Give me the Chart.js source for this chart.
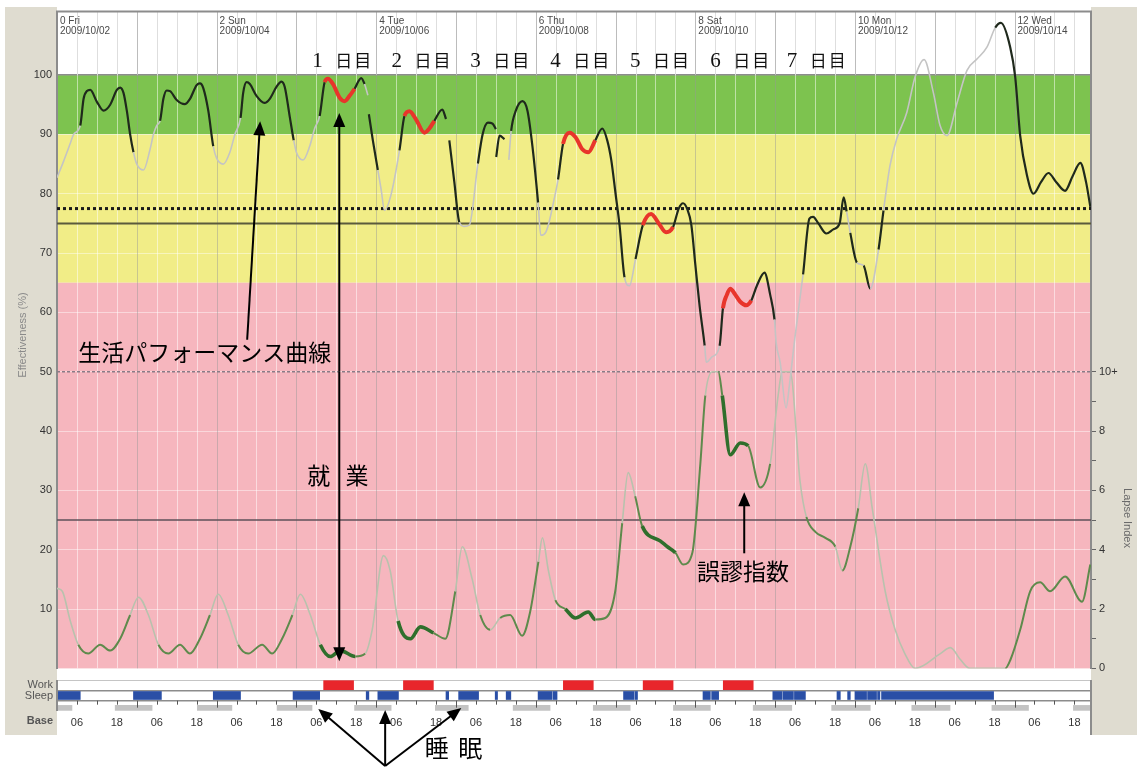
<!DOCTYPE html>
<html>
<head>
<meta charset="utf-8">
<script src="https://cdn.jsdelivr.net/npm/chart.js@4.4.1/dist/chart.umd.min.js"></script>
<style>
html,body{margin:0;padding:0;background:#fff;}
#wrap{position:relative;width:1137px;height:767px;overflow:hidden;}
#main{position:absolute;left:0;top:0;}
#strip{position:absolute;left:0;top:680px;}
</style>
</head>
<body>
<div id="wrap">
  <canvas id="main" width="1137" height="680"></canvas>
  <canvas id="strip" width="1137" height="87"></canvas>
</div>
<script>
// time runs in hours from 2009/10/02 00:00
const xMax = 311;
const effTop = 110.7;
const lapseTop = 22.14;   // 10 on the lapse axis sits on the 50 % line

const dayHeaderHours = [0, 48, 96, 144, 192, 240, 288];
const dayHeaderNames = ['0 Fri', '2 Sun', '4 Tue', '6 Thu', '8 Sat', '10 Mon', '12 Wed'];
const dayHeaderDates = ['2009/10/02', '2009/10/04', '2009/10/06', '2009/10/08', '2009/10/10', '2009/10/12', '2009/10/14'];

const shiftDayHours = [85.8, 109.6, 133.3, 157.4, 181.4, 205.5, 228.5];
const shiftDayNums = ['1', '2', '3', '4', '5', '6', '7'];

const effTicks = [10, 20, 30, 40, 50, 60, 70, 80, 90, 100];
const lapseTicks = [0, 2, 4, 6, 8, 10];

const greenZone = [90, 100];
const yellowZone = [65, 90];
const redZone = [0, 65];

const criterionDotted = 77.5;
const criterionSolid = 75;
const lapseDotted = 50;
const lapseSolid = 25;

const workIntervals = [[80.2, 89.2], [104.2, 113.2], [152.3, 161.3], [176.3, 185.3], [200.4, 209.4]];
const sleepIntervals = [[0, 7], [23, 31.4], [47, 55.2], [71, 79], [93, 93.8], [96.5, 102.7], [117, 117.8],
  [120.8, 126.8], [131.8, 132.5], [135.1, 136.5], [144.7, 148.9], [149.2, 150.4], [170.4, 173.5], [173.8, 174.6],
  [194.3, 196.5], [196.9, 199], [215.3, 218], [218.3, 221.5], [221.8, 225.1], [234.6, 235.6], [237.8, 238.6],
  [240, 243.5], [243.8, 246.5], [246.8, 247.5], [248, 281.7]];
const baseIntervals = [[0, 4.5], [17.5, 28.6], [42.2, 52.6], [66.2, 76.7], [89.5, 100.5], [113.8, 123.7], [137.2, 148.3],
  [161.3, 172.4], [185.4, 196.5], [209.4, 221], [233, 244.6], [257.1, 268.6], [281.2, 292.2], [305.7, 311]];

const effHours = [0, 2, 4, 5, 7, 8, 9, 10, 12, 14, 16, 18, 19, 20, 21, 22, 23, 24, 26, 28, 29, 30, 31,
  32, 33, 34, 36, 38.4, 40, 42, 43, 44, 45.5, 47, 48, 50, 52, 53.5, 55.2,
  56, 57, 58, 60, 62.4, 64, 66, 67.5, 68.5, 70, 71.2, 72, 74, 76, 77.5, 79,
  80.5, 81.5, 83, 85, 86.5, 88, 89.5, 91.5, 92.5, 93.5, null,
  93.8, 95, 96.5, 97.5, 98.5, 100.5, 103, 104.5, 106, 108, 110.5, 112, 113.5, 115.9, 117, null,
  118, 119.5, 121, 122.5, 124, 126.6, 128, 129.6, 131, 132, null,
  132.1, 133.1, 134.6, null,
  135.9, 136.6, 138, 140, 141.5, 143, 144.7, 145.5, 147, 148, 149.5, 150.7, 152.2, 154.2, 156, 158, 159.8, 161.9,
  164, 165.5, 166.7, 168, 169.2, 170.7, 172.2, 174, 176.2, 178.7, 181, 183.2, 185.3, 187, 188.3, 189.5, 190.8,
  192, 193.3, 194.8, 195.3, 197, 199.3, 200.3, 201.5, 202.5, 204, 205.5, 207.3, 208.8, 210.5, 212.8, 214.5,
  215.8, 216.3, 217.5, 219.3, 220.3, 222, 224.4, 226.3, 227.4, 229, 231.4, 233.5, 235.4, 236.6, 237.5, 238.6,
  240.6, 242.6, 244.6, 247.1, 248.6, 250.6, 252.6, 255.6, 258.1, 260.8, 263.6, 265.6, 267.7, 270.7, 273.7,
  276.7, 279.7, 282.2, 283.9, 286.7, 288.2, 289.7, 291.7, 293.7, 296, 298.2, 300.5, 303.2, 305.5, 307.8, 309.5, 310.8];
const effValues = [82.7, 85.5, 88.5, 90, 91.5, 96, 97.3, 97.5, 95.5, 94, 95, 97.5, 97.9, 97, 94, 90, 87, 85, 84, 87.5, 90, 91.5, 92.3,
  96, 97.4, 97.3, 95.8, 95.1, 96, 98.3, 98.6, 97.8, 94, 88, 86, 85, 87, 90, 92.8,
  97, 98.8, 98.5, 96.5, 95.3, 96, 98, 98.9, 98, 93, 89, 87, 85.7, 88, 91, 93.1,
  98.8, 99.4, 98.5, 96.2, 95.6, 96.5, 97.7, 99.5, 98.5, 96.6, null,
  93.4, 89, 84, 80.7, 77.2, 79.9, 87.3, 93.1, 93.9, 92.5, 90.3, 91, 92.3, 94.2, 92.6, null,
  89, 82, 75.2, 74.5, 74.7, 85.1, 90, 92, 91.8, 90.9, null,
  86.2, 89.8, 89.2, null,
  85.7, 90.6, 94, 95.6, 94, 88, 78.5, 73, 73.5, 75.2, 79, 82.4, 88.4, 90.3, 89.5, 87.5, 87, 89,
  91, 89, 85.7, 80, 74.7, 65.9, 64.5, 69, 74.7, 76.6, 75, 73.5, 74.4, 77.5, 78.4, 77.5, 74.7,
  68, 61, 54.4, 51.6, 52.5, 54.4, 60.7, 63, 64, 63, 61.8, 61.2, 62, 64.5, 66.7, 63,
  58.8, 54.9, 51.6, 43.9, 47.8, 56, 66.4, 75.8, 76.1, 75, 73.3, 74, 75, 79.4, 77, 73.4,
  68.4, 67.9, 64, 70.6, 77.2, 84.9, 89.3, 93.7, 99.7, 102.6, 97, 91.5, 89.8, 95.3, 100.8,
  102.7, 104.7, 108, 108.8, 104.7, 99.7, 89.8, 83.2, 80, 82, 83.5, 82, 80.5, 83, 85.2, 82, 77.8];

const lapseHours = [0, 1.6, 4, 6.4, 9.4, 13, 16, 19, 22, 24.5, 27.5, 30.5, 33.5, 37, 40, 43, 46, 48.5, 51.5,
  54.5, 57.5, 61.7, 64.7, 67.7, 70.8, 73.2, 76.2, 79.2, 82.2, 85.2, 89.7, 92.7, 94.8, 98.2, 100.2, 102.6,
  106.3, 109.3, 113.2, 116.8, 119.8, 121.9, 124.9, 127.3, 130.3, 133.3, 136.3, 139.9, 142.3, 144.8, 146,
  147.8, 149.9, 152.9, 155.9, 159.8, 161.9, 164.9, 167.9, 170, 171.8, 173.9, 176, 181.4, 183.6, 186, 188.3,
  191.1, 193.5, 195, 197.1, 198.9, 200.1, 202.5, 205.5, 207.9, 211.5, 214.5, 216.9, 218.1, 220.5, 223.5,
  225.4, 228.1, 231.1, 234.1, 236.2, 238.6, 241, 243.1, 245.2, 249.1, 252.1, 255, 258.1, 265.7, 268.7,
  271.7, 274.6, 285.2, 286.8, 289.7, 292.7, 295.7, 298.7, 303.2, 308.3, 310.8];
const lapseValues = [2.7, 2.6, 1.6, 0.8, 0.5, 0.8, 0.6, 1.0, 1.8, 2.4, 1.8, 0.8, 0.5, 0.8, 0.5, 1.0, 1.8, 2.5, 1.8,
  0.8, 0.5, 0.8, 0.5, 1.0, 1.8, 2.5, 1.8, 0.8, 0.4, 0.6, 0.4, 0.5, 1.3, 3.8, 3.3, 1.6,
  1.0, 1.4, 1.2, 1.0, 2.6, 4.1, 3.0, 1.8, 1.3, 1.7, 1.8, 1.1, 1.9, 3.6, 4.4,
  3.3, 2.3, 2.0, 1.7, 1.9, 1.65, 1.7, 2.6, 4.9, 6.6, 5.8, 4.8, 4.3, 4.1, 3.9, 3.5,
  3.9, 6.9, 9.2, 10, 10, 9.2, 7.2, 7.6, 7.5, 6.1, 6.9, 9.2, 10, 10, 6.3,
  5.1, 4.6, 4.4, 4.1, 3.3, 4.1, 5.4, 6.9, 5.4, 2.6, 1.3, 0.5, 0, 0.5, 0.7,
  0.3, 0, 0, 0.3, 1.3, 2.6, 2.9, 2.6, 3.1, 2.25, 3.5];

const toPoints = (hs, vs) => hs.map((h, i) => ({ x: h === null ? NaN : h, y: vs[i] }));
const inside = (h, list) => list.some(([a, b]) => h >= a && h <= b);
function phase(c) {
  const h = (c.p0.parsed.x + c.p1.parsed.x) / 2;
  if (inside(h, workIntervals)) return 'work';
  if (inside(h, sleepIntervals)) return 'sleep';
  return 'wake';
}
const effStyle = { work: ['#e8352b', 4], sleep: ['#c4c4c4', 1.6], wake: ['#1f291c', 2.2] };
const lapseStyle = { work: ['#2f6f2c', 3.6], sleep: ['#b8c2ad', 1.6], wake: ['#5e8a4c', 2] };

const refLine = (y, color, width, dash) => ({
  type: 'line', data: [{ x: 0, y }, { x: xMax, y }], borderColor: color, borderWidth: width,
  borderDash: dash, pointRadius: 0, order: 5, yAxisID: 'y'
});

Chart.defaults.font.family = '"Liberation Sans", Arial, sans-serif';

function arrow(ctx, x1, y1, x2, y2) {
  const a = Math.atan2(y2 - y1, x2 - x1), L = 14, W = 6;
  ctx.beginPath();
  ctx.moveTo(x1, y1);
  ctx.lineTo(x2 - Math.cos(a) * L * 0.7, y2 - Math.sin(a) * L * 0.7);
  ctx.stroke();
  ctx.beginPath();
  ctx.moveTo(x2, y2);
  ctx.lineTo(x2 - L * Math.cos(a) + W * Math.sin(a), y2 - L * Math.sin(a) - W * Math.cos(a));
  ctx.lineTo(x2 - L * Math.cos(a) - W * Math.sin(a), y2 - L * Math.sin(a) + W * Math.cos(a));
  ctx.closePath();
  ctx.fill();
}

// backgrounds, zone bands and the 6-hour grid
const zonePlugin = {
  id: 'zones',
  beforeDraw(chart) {
    const { ctx, chartArea: a, scales: { y } } = chart;
    ctx.save();
    ctx.fillStyle = '#fff';
    ctx.fillRect(0, 0, chart.width, chart.height);
    ctx.fillStyle = '#dfdcd0';
    ctx.fillRect(5, 7, a.left - 5, chart.height - 7);
    ctx.fillRect(a.right, 7, chart.width - a.right, chart.height - 7);
    const band = (z, col) => {
      ctx.fillStyle = col;
      ctx.fillRect(a.left, y.getPixelForValue(z[1]), a.width, y.getPixelForValue(z[0]) - y.getPixelForValue(z[1]));
    };
    band(greenZone, '#7dc34f');
    band(yellowZone, '#f1ed87');
    band(redZone, '#f6b6be');
    ctx.restore();
  },
  beforeDatasetsDraw(chart) {
    const { ctx, chartArea: a, scales: { x, y } } = chart;
    const y100 = y.getPixelForValue(100);
    ctx.save();
    ctx.lineWidth = 1;
    for (let h = 6; h < xMax; h += 6) {
      const px = Math.round(x.getPixelForValue(h)) + 0.5;
      const day = h % 24 === 0;
      ctx.strokeStyle = day ? '#bcbcbc' : '#dedede';
      ctx.beginPath(); ctx.moveTo(px, a.top); ctx.lineTo(px, y100); ctx.stroke();
      ctx.strokeStyle = day ? 'rgba(150,150,150,0.45)' : 'rgba(255,255,255,0.5)';
      ctx.beginPath(); ctx.moveTo(px, y100); ctx.lineTo(px, a.bottom); ctx.stroke();
    }
    // date header
    ctx.fillStyle = '#4a4a4a';
    ctx.font = '10px "Liberation Sans", Arial, sans-serif';
    ctx.textBaseline = 'top';
    dayHeaderHours.forEach((h, i) => {
      const px = x.getPixelForValue(h) + 3;
      ctx.fillText(dayHeaderNames[i], px, a.top + 5);
      ctx.fillText(dayHeaderDates[i], px, a.top + 15);
    });
    // shift day markers
    ctx.fillStyle = '#111';
    ctx.textBaseline = 'middle';
    shiftDayHours.forEach((h, i) => {
      const cx = x.getPixelForValue(h), cy = y.getPixelForValue(102.4);
      ctx.textAlign = 'left';
      ctx.font = '21px "Liberation Serif", serif';
      ctx.fillText(shiftDayNums[i], cx - 30, cy + 1);
      ctx.font = '17px "Noto Sans CJK JP", sans-serif';
      ctx.fillText('日', cx - 7, cy);
      ctx.fillText('目', cx + 12, cy);
    });
    ctx.restore();
  },
  afterDraw(chart) {
    const { ctx, chartArea: a, scales: { x, y } } = chart;
    ctx.save();
    ctx.strokeStyle = '#8c8c8c';
    ctx.lineWidth = 2;
    ctx.beginPath(); ctx.moveTo(a.left - 1, a.top); ctx.lineTo(a.right + 1, a.top); ctx.stroke();
    // axis titles
    ctx.fillStyle = '#8a8a8a';
    ctx.font = '11px "Liberation Sans", Arial, sans-serif';
    ctx.textAlign = 'center';
    ctx.textBaseline = 'middle';
    ctx.save(); ctx.translate(23, 335); ctx.rotate(-Math.PI / 2); ctx.fillText('Effectiveness (%)', 0, 0); ctx.restore();
    ctx.fillStyle = '#6a6a6a';
    ctx.save(); ctx.translate(1127, 518); ctx.rotate(Math.PI / 2); ctx.fillText('Lapse Index', 0, 0); ctx.restore();

    // callouts
    const X = h => x.getPixelForValue(h), Y = v => y.getPixelForValue(v);
    ctx.fillStyle = '#000';
    ctx.strokeStyle = '#000';
    ctx.lineWidth = 2;
    ctx.font = '23px "Noto Sans CJK JP", sans-serif';
    ctx.textAlign = 'left';
    ctx.fillText('生活パフォーマンス曲線', X(6.4), Y(53.2));
    arrow(ctx, X(57.2), Y(55.4), X(61.1), Y(92.2));

    ctx.textAlign = 'center';
    ctx.fillText('就', X(78.7), Y(32.5));
    ctx.fillText('業', X(90.2), Y(32.5));
    arrow(ctx, X(84.9), Y(50), X(84.9), Y(93.6));
    arrow(ctx, X(84.9), Y(50), X(84.9), Y(1.2));

    ctx.fillText('誤謬指数', X(206.3), Y(16.3));
    arrow(ctx, X(206.7), Y(19.4), X(206.7), Y(29.7));
    ctx.restore();
  }
};

new Chart(document.getElementById('main'), {
  type: 'line',
  data: {
    datasets: [
      refLine(criterionDotted, '#1a1a1a', 3, [3, 3]),
      refLine(criterionSolid, '#5b5a3c', 2, []),
      refLine(lapseDotted, '#8b7b86', 1.5, [3, 2]),
      refLine(lapseSolid, '#5e5058', 1.5, []),
      {
        label: 'Effectiveness', data: toPoints(effHours, effValues), yAxisID: 'y', order: 1,
        borderColor: '#1f291c', borderWidth: 2.2, pointRadius: 0, spanGaps: false,
        cubicInterpolationMode: 'monotone',
        segment: {
          borderColor: c => effStyle[phase(c)][0],
          borderWidth: c => effStyle[phase(c)][1]
        }
      },
      {
        label: 'Lapse Index', data: toPoints(lapseHours, lapseValues), yAxisID: 'yLapse', order: 2,
        borderColor: '#5e8a4c', borderWidth: 2, pointRadius: 0,
        cubicInterpolationMode: 'monotone',
        segment: {
          borderColor: c => lapseStyle[phase(c)][0],
          borderWidth: c => lapseStyle[phase(c)][1]
        }
      }
    ]
  },
  options: {
    responsive: false,
    animation: false,
    layout: { padding: { top: 8, left: 0, right: 0, bottom: 0 } },
    plugins: { legend: { display: false }, tooltip: { enabled: false } },
    scales: {
      x: { type: 'linear', min: 0, max: xMax, display: false },
      y: {
        type: 'linear', position: 'left', min: 0, max: effTop,
        afterFit: s => { s.width = 57; },
        ticks: {
          stepSize: 10, autoSkip: false, padding: 5, color: '#333', font: { size: 11 },
          callback: v => effTicks.includes(v) ? String(v) : ''
        },
        grid: {
          drawTicks: false,
          color: c => !c.tick ? 'transparent' : c.tick.value === 100 ? '#8c8c8c' : (effTicks.includes(c.tick.value) ? 'rgba(255,255,255,0.45)' : 'transparent'),
          lineWidth: c => c.tick && c.tick.value === 100 ? 1.5 : 1
        },
        border: { color: '#8c8c8c', width: 2 }
      },
      yLapse: {
        type: 'linear', position: 'right', min: 0, max: lapseTop,
        afterFit: s => { s.width = 46; },
        ticks: {
          stepSize: 1, autoSkip: false, padding: 3, color: '#333', font: { size: 11 },
          callback: v => lapseTicks.includes(v) ? (v === 10 ? '10+' : String(v)) : ''
        },
        grid: {
          drawOnChartArea: false, tickLength: 5,
          tickColor: c => c.tick && c.tick.value <= 10 ? '#666' : 'transparent'
        },
        border: { color: '#8c8c8c', width: 2 }
      }
    }
  },
  plugins: [zonePlugin]
});

// work / sleep / base strip under the plot
const stripPlugin = {
  id: 'stripDecor',
  beforeDraw(chart) {
    const { ctx, chartArea: a } = chart;
    ctx.save();
    ctx.fillStyle = '#fff';
    ctx.fillRect(0, 0, chart.width, chart.height);
    ctx.fillStyle = '#dfdcd0';
    ctx.fillRect(5, 0, a.left - 5, 55);
    ctx.fillRect(a.right, 0, chart.width - a.right, 55);
    ctx.restore();
  },
  afterDraw(chart) {
    const { ctx, chartArea: a, scales: { x, y } } = chart;
    ctx.save();
    // 6-hour ticks on the base row
    ctx.strokeStyle = '#555';
    ctx.lineWidth = 1;
    const yb = y.getPixelForValue(1);
    for (let h = 6; h < xMax; h += 6) {
      const px = Math.round(x.getPixelForValue(h)) + 0.5;
      ctx.beginPath(); ctx.moveTo(px, yb); ctx.lineTo(px, yb + (h % 24 === 0 ? 7 : 4)); ctx.stroke();
    }
    ctx.strokeStyle = '#8c8c8c';
    ctx.lineWidth = 2;
    ctx.beginPath(); ctx.moveTo(a.left, 0); ctx.lineTo(a.left, a.bottom); ctx.stroke();
    ctx.beginPath(); ctx.moveTo(a.right, 0); ctx.lineTo(a.right, 55); ctx.stroke();

    ctx.fillStyle = '#555';
    ctx.font = '11px "Liberation Sans", Arial, sans-serif';
    ctx.textAlign = 'right';
    ctx.textBaseline = 'middle';
    ctx.fillText('Work', a.left - 4, y.getPixelForValue(2.5));
    ctx.fillText('Sleep', a.left - 4, y.getPixelForValue(1.5));
    ctx.font = 'bold 11px "Liberation Sans", Arial, sans-serif';
    ctx.fillText('Base', a.left - 4, a.bottom + 10);

    // sleep callout
    const X = h => x.getPixelForValue(h);
    ctx.fillStyle = '#000';
    ctx.strokeStyle = '#000';
    ctx.lineWidth = 2;
    ctx.font = '24px "Noto Sans CJK JP", sans-serif';
    ctx.textAlign = 'center';
    ctx.fillText('睡', X(114.2), 68);
    ctx.fillText('眠', X(124.3), 68);
    arrow(ctx, X(98.7), 86, X(78.6), a.bottom - 2);
    arrow(ctx, X(98.7), 86, X(98.7), a.bottom - 1);
    arrow(ctx, X(98.7), 86, X(121.6), a.bottom - 3);
    ctx.restore();
  }
};

const bars = (list, row) => list.map(iv => ({ x: iv, y: row }));

new Chart(document.getElementById('strip'), {
  type: 'bar',
  data: {
    datasets: [
      { label: 'Work', data: bars(workIntervals, 2.5), backgroundColor: '#e8262b', barThickness: 9 },
      { label: 'Sleep', data: bars(sleepIntervals, 1.5), backgroundColor: '#2a4fa6', barThickness: 8 },
      { label: 'Base', data: bars(baseIntervals, 0.3), backgroundColor: '#c3c3c3', barThickness: 5 }
    ]
  },
  options: {
    indexAxis: 'y',
    responsive: false,
    animation: false,
    grouped: false,
    layout: { padding: { top: 0, left: 0, right: 46, bottom: 0 } },
    plugins: { legend: { display: false }, tooltip: { enabled: false } },
    scales: {
      x: {
        type: 'linear', min: 0, max: xMax,
        afterFit: s => { s.height = 56; },
        ticks: {
          stepSize: 6, autoSkip: false, includeBounds: false, maxRotation: 0, padding: 5, color: '#333', font: { size: 11 },
          callback: v => v % 24 === 6 ? '06' : (v % 24 === 18 ? '18' : '')
        },
        grid: { drawOnChartArea: false, drawTicks: false },
        border: { display: false }
      },
      y: {
        type: 'linear', min: 0, max: 3, offset: false,
        afterFit: s => { s.width = 57; },
        ticks: { stepSize: 1, display: false },
        grid: {
          offset: false,
          drawTicks: false,
          color: c => c.tick && c.tick.value > 0 ? '#8c8c8c' : 'transparent',
          lineWidth: 1.5
        },
        border: { display: false }
      }
    }
  },
  plugins: [stripPlugin]
});
</script>
</body>
</html>
